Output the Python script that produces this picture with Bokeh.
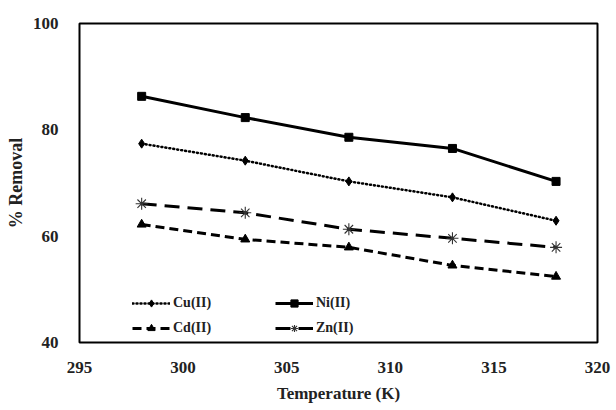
from bokeh.plotting import figure
from bokeh.models import Legend, LegendItem, FixedTicker, Range1d
from bokeh.embed import file_html
from bokeh.resources import INLINE

temperature = [298, 303, 308, 313, 318]
cu = [77.4, 74.2, 70.3, 67.3, 62.9]
ni = [86.3, 82.3, 78.6, 76.5, 70.3]
cd = [62.2, 59.4, 57.9, 54.5, 52.4]
zn = [66.1, 64.4, 61.3, 59.6, 57.9]
x_ticks = [295, 300, 305, 310, 315, 320]
y_ticks = [40, 60, 80, 100]

FONT = "Liberation Serif"

p = figure(width=616, height=410, output_backend="svg", toolbar_location=None,
           x_range=Range1d(295, 320), y_range=Range1d(40, 100),
           min_border_left=79, min_border_right=19, min_border_top=23, min_border_bottom=68)
p.grid.visible = False
p.outline_line_color = "black"
p.outline_line_width = 2
p.background_fill_color = "white"
p.border_fill_color = "white"

for ax in (p.xaxis[0], p.yaxis[0]):
    ax.axis_line_color = None
    ax.major_tick_line_color = None
    ax.minor_tick_line_color = None
    ax.major_label_text_font = FONT
    ax.major_label_text_font_style = "bold"
    ax.major_label_text_font_size = "17px"
    ax.major_label_text_color = "#222222"
    ax.axis_label_text_font = FONT
    ax.axis_label_text_font_style = "bold"
    ax.axis_label_text_color = "#222222"

p.xaxis.axis_label_text_font_size = "17px"
p.yaxis.axis_label_text_font_size = "18px"
p.xaxis.ticker = FixedTicker(ticks=x_ticks)
p.yaxis.ticker = FixedTicker(ticks=y_ticks)
p.xaxis.axis_label = "Temperature (K)"
p.yaxis.axis_label = "% Removal"
p.xaxis.major_label_standoff = 13
p.yaxis.major_label_standoff = 15
p.xaxis.axis_label_standoff = 8
p.yaxis.axis_label_standoff = 4

l_cu = p.line(temperature, cu, line_color="black", line_width=2.5, line_dash="1 3", line_cap="round")
m_cu = p.scatter(temperature, cu, marker="diamond", size=9, color="black")
l_ni = p.line(temperature, ni, line_color="black", line_width=3)
m_ni = p.scatter(temperature, ni, marker="square", size=8, color="black")
l_cd = p.line(temperature, cd, line_color="black", line_width=3, line_dash="9 5")
m_cd = p.scatter(temperature, cd, marker="triangle", size=9, color="black")
l_zn = p.line(temperature, zn, line_color="black", line_width=3, line_dash="15 8")
m_zn = p.scatter(temperature, zn, marker="asterisk", size=12, line_color="#333333", line_width=1.1)

def make_legend(items, loc):
    lg = Legend(items=items, location=loc, orientation="vertical")
    lg.border_line_color = None
    lg.background_fill_alpha = 0
    lg.label_text_font = FONT
    lg.label_text_font_style = "bold"
    lg.label_text_font_size = "14px"
    lg.label_text_color = "#222222"
    lg.glyph_width = 38
    lg.glyph_height = 18
    lg.label_standoff = 3
    lg.spacing = 7
    lg.padding = 0
    lg.margin = 0
    return lg

leg1 = make_legend([LegendItem(label="Cu(II)", renderers=[l_cu, m_cu]),
                    LegendItem(label="Cd(II)", renderers=[l_cd, m_cd])], (53, 5))
leg2 = make_legend([LegendItem(label="Ni(II)", renderers=[l_ni, m_ni]),
                    LegendItem(label="Zn(II)", renderers=[l_zn, m_zn])], (196, 5))
p.add_layout(leg1, "center")
p.add_layout(leg2, "center")

open("out.html", "w").write(file_html(p, INLINE))
